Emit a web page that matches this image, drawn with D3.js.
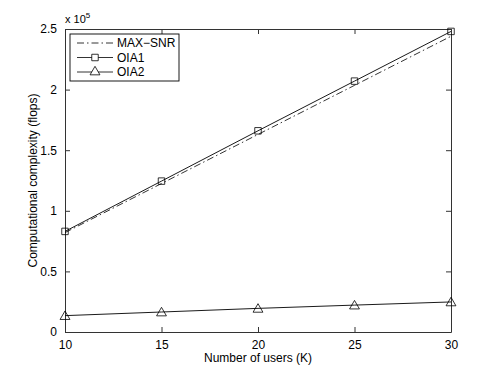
<!DOCTYPE html>
<html>
<head>
<meta charset="utf-8">
<script src="https://cdn.jsdelivr.net/npm/d3@7"></script>
<style>
  body { margin: 0; background: #fff; }
  text { font-family: "Liberation Sans", Arial, sans-serif; }
</style>
</head>
<body>
<div id="frame_div"></div>
<script>
// chart data (values in units of 1e5 flops)
const users = [10, 15, 20, 25, 30];
const maxSnr = [0.82, 1.225, 1.63, 2.035, 2.44];
const oia1 = [0.83, 1.245, 1.66, 2.07, 2.48];
const oia2 = [0.135, 0.165, 0.195, 0.222, 0.248];
const xTicks = [10, 15, 20, 25, 30];
const yTicks = [0, 0.5, 1, 1.5, 2, 2.5];
const yTickLabels = ["0", "0.5", "1", "1.5", "2", "2.5"];

const FRAME_WIDTH = 498;
const FRAME_HEIGHT = 375;
const MARGINS = {left: 65, right: 47, top: 29, bottom: 43};
const VIS_WIDTH = FRAME_WIDTH - MARGINS.left - MARGINS.right;
const VIS_HEIGHT = FRAME_HEIGHT - MARGINS.top - MARGINS.bottom;

const FRAME = d3.select("#frame_div")
  .append("svg")
    .attr("width", FRAME_WIDTH)
    .attr("height", FRAME_HEIGHT);

const X_SCALE = d3.scaleLinear().domain([10, 30]).range([0, VIS_WIDTH]);
const Y_SCALE = d3.scaleLinear().domain([0, 2.5]).range([VIS_HEIGHT, 0]);

const G = FRAME.append("g")
  .attr("transform", `translate(${MARGINS.left},${MARGINS.top})`);

// axes (ticks point inward, box on all sides)
const axisColor = "#333";
const fmtY = (d) => yTickLabels[yTicks.indexOf(d)];

const xBottom = G.append("g")
  .attr("transform", `translate(0,${VIS_HEIGHT})`)
  .call(d3.axisBottom(X_SCALE).tickValues(xTicks).tickSizeInner(-5).tickSizeOuter(0).tickPadding(8));
const xTop = G.append("g")
  .call(d3.axisTop(X_SCALE).tickValues(xTicks).tickSizeInner(-5).tickSizeOuter(0).tickFormat(""));
const yLeft = G.append("g")
  .call(d3.axisLeft(Y_SCALE).tickValues(yTicks).tickSizeInner(-5).tickSizeOuter(0).tickPadding(8).tickFormat(fmtY));
const yRight = G.append("g")
  .attr("transform", `translate(${VIS_WIDTH},0)`)
  .call(d3.axisRight(Y_SCALE).tickValues(yTicks).tickSizeInner(-5).tickSizeOuter(0).tickFormat(""));

[xBottom, xTop, yLeft, yRight].forEach((a) => {
  a.selectAll("path").attr("stroke", axisColor).attr("stroke-width", 1);
  a.selectAll("line").attr("stroke", axisColor);
  a.selectAll("text").attr("fill", "#000").style("font-size", "12px");
});

// exponent label
G.append("text")
  .attr("x", 0)
  .attr("y", -6)
  .style("font-size", "11px")
  .text("x 10")
  .append("tspan")
    .attr("dy", -5)
    .style("font-size", "8px")
    .text("5");

// axis titles
FRAME.append("text")
  .attr("x", MARGINS.left + VIS_WIDTH / 2)
  .attr("y", 362)
  .attr("text-anchor", "middle")
  .style("font-size", "12px")
  .text("Number of users (K)");

FRAME.append("text")
  .attr("transform", `translate(37,${MARGINS.top + VIS_HEIGHT / 2}) rotate(-90)`)
  .attr("text-anchor", "middle")
  .style("font-size", "12px")
  .text("Computational complexity (flops)");

// lines
const line = (vals) => d3.line()
  .x((d, i) => X_SCALE(users[i]))
  .y((d) => Y_SCALE(d))(vals);

G.append("path").attr("d", line(maxSnr))
  .attr("fill", "none").attr("stroke", "#000").attr("stroke-width", 0.8)
  .attr("stroke-dasharray", "7,3,1.5,3");
G.append("path").attr("d", line(oia1))
  .attr("fill", "none").attr("stroke", "#000").attr("stroke-width", 0.9);
G.append("path").attr("d", line(oia2))
  .attr("fill", "none").attr("stroke", "#000").attr("stroke-width", 0.9);

// markers
const square = d3.symbol().type(d3.symbolSquare).size(42);
const triangle = d3.symbol().type(d3.symbolTriangle).size(42);

G.selectAll(".sq")
  .data(oia1)
  .enter()
  .append("path")
    .attr("d", square)
    .attr("transform", (d, i) => `translate(${X_SCALE(users[i])},${Y_SCALE(d)})`)
    .attr("fill", "none").attr("stroke", "#000").attr("stroke-width", 0.8);

G.selectAll(".tri")
  .data(oia2)
  .enter()
  .append("path")
    .attr("d", triangle)
    .attr("transform", (d, i) => `translate(${X_SCALE(users[i])},${Y_SCALE(d) + 1})`)
    .attr("fill", "none").attr("stroke", "#000").attr("stroke-width", 0.8);

// legend
const LEGEND = G.append("g").attr("transform", "translate(5,5)");
LEGEND.append("rect")
  .attr("width", 109).attr("height", 47)
  .attr("fill", "#fff").attr("stroke", "#000").attr("stroke-width", 0.9);

const legendItems = [
  {name: "MAX\u2212SNR", dash: "7,3,1.5,3", marker: null},
  {name: "OIA1", dash: null, marker: square},
  {name: "OIA2", dash: null, marker: triangle}
];
legendItems.forEach((it, i) => {
  const y = 9 + i * 14.5;
  LEGEND.append("line")
    .attr("x1", 7).attr("x2", 43).attr("y1", y).attr("y2", y)
    .attr("stroke", "#000").attr("stroke-width", 0.8)
    .attr("stroke-dasharray", it.dash);
  if (it.marker) {
    LEGEND.append("path").attr("d", it.marker)
      .attr("transform", `translate(25,${y})`)
      .attr("fill", "#fff").attr("stroke", "#000").attr("stroke-width", 0.8);
  }
  LEGEND.append("text")
    .attr("x", 47).attr("y", y + 4)
    .style("font-size", "12px")
    .text(it.name);
});
</script>
</body>
</html>
